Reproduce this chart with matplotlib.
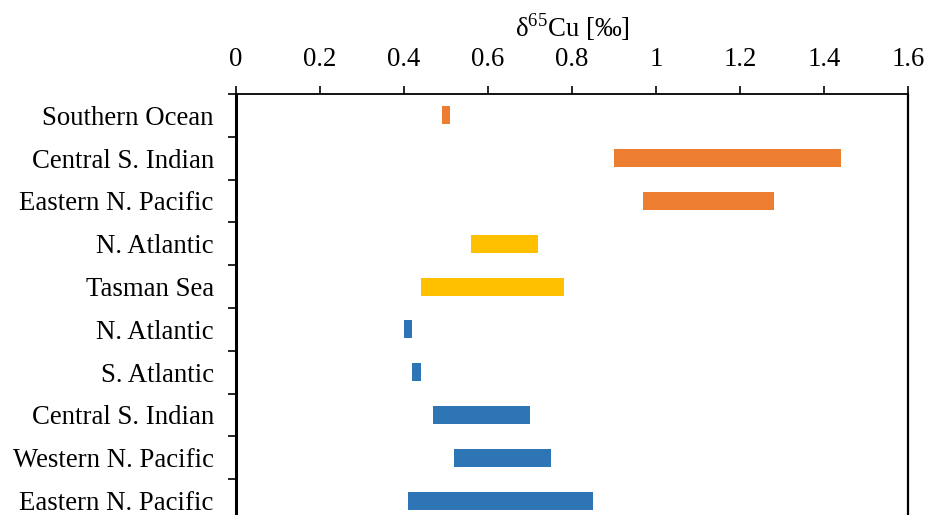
import numpy as np
import matplotlib.pyplot as plt

plt.rcParams['font.family'] = ['Liberation Serif', 'DejaVu Serif']
plt.rcParams['mathtext.fontset'] = 'custom'
plt.rcParams['mathtext.rm'] = 'Liberation Serif'

# sites, top to bottom
sites = ['Southern Ocean', 'Central S. Indian', 'Eastern N. Pacific', 'N. Atlantic',
         'Tasman Sea', 'N. Atlantic', 'S. Atlantic', 'Central S. Indian',
         'Western N. Pacific', 'Eastern N. Pacific']
low = [0.49, 0.90, 0.97, 0.56, 0.44, 0.40, 0.42, 0.47, 0.52, 0.41]
high = [0.51, 1.44, 1.28, 0.72, 0.78, 0.42, 0.44, 0.70, 0.75, 0.85]
colors = ['#ED7D31'] * 3 + ['#FFC000'] * 2 + ['#2E75B6'] * 5

fig = plt.figure(figsize=(9.3, 5.15), dpi=100)
ax = fig.add_axes([236 / 930, 1 - 522 / 515, 672 / 930, 428 / 515])

y = np.arange(len(sites))
ax.barh(y, np.array(high) - np.array(low), left=low, height=0.42, color=colors)

ax.set_xlim(0, 1.6)
ax.set_ylim(len(sites) - 0.5, -0.5)
ax.xaxis.tick_top()
ax.xaxis.set_label_position('top')
ax.set_xticks(np.arange(0, 1.61, 0.2))
ax.set_xticklabels(['0', '0.2', '0.4', '0.6', '0.8', '1', '1.2', '1.4', '1.6'])
ax.set_xlabel(r'δ$^{\mathregular{65}}$Cu [‰]', fontsize=19.3, labelpad=7)

ax.set_yticks(y)
ax.set_yticklabels(sites)
ax.set_yticks(np.arange(-0.5, len(sites) + 0.5, 1), minor=True)
ax.tick_params(axis='y', which='major', length=0, pad=16, labelsize=19.3)
ax.tick_params(axis='y', which='minor', length=6, width=1.2, direction='out')
ax.tick_params(axis='x', length=6, width=1.2, direction='out', pad=10, labelsize=19.3)

ax.spines['bottom'].set_visible(False)
ax.spines['left'].set_linewidth(2.2)
ax.spines['top'].set_linewidth(1.3)
ax.spines['right'].set_linewidth(1.6)

fig.savefig('out.png', dpi=100)
